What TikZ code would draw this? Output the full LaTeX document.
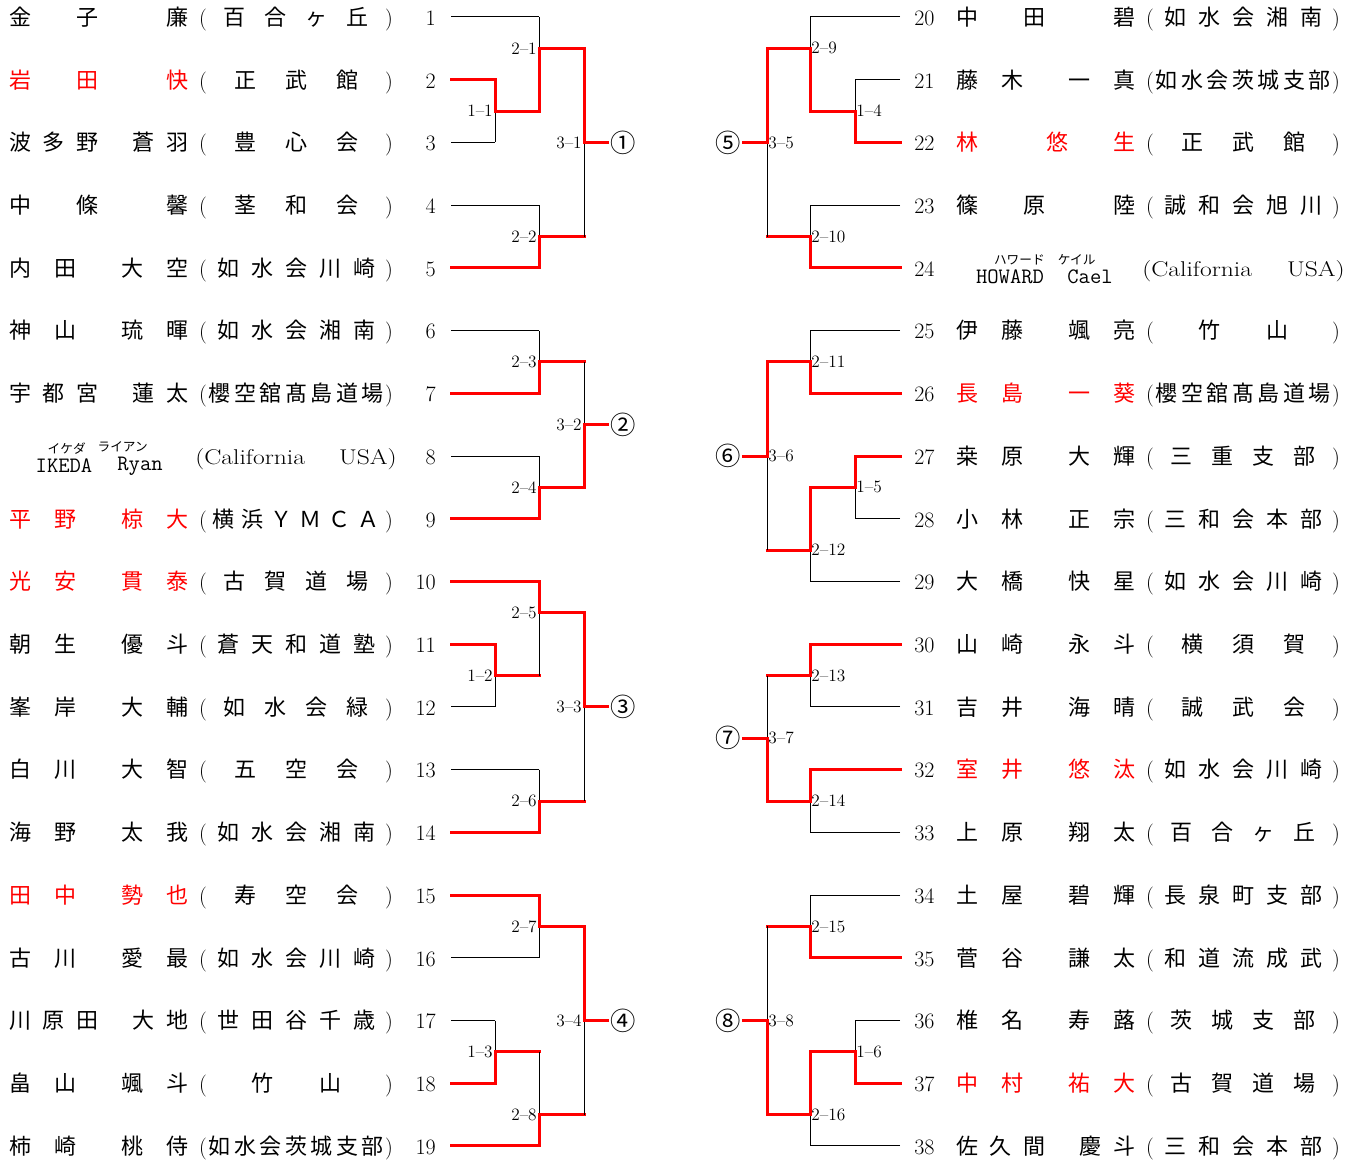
\documentclass[tikz,border=0pt]{standalone}
\usepackage{fontspec}
\newfontfamily\jp{Noto Sans CJK JP}
\usetikzlibrary{positioning}

% name layouts: 2+2, 2+1, 3+2, 1+2 characters
\newcommand{\nmA}[7]{\foreach \cx/\ch [count=\i] in {20/#4,65/#5,132/#6,177/#7}
  \node[nm,#3] (n#1-\i) at (\xoff+\cx,#2) {\ch};}
\newcommand{\nmB}[6]{\foreach \cx/\ch [count=\i] in {20/#4,87/#5,177/#6}
  \node[nm,#3] (n#1-\i) at (\xoff+\cx,#2) {\ch};}
\newcommand{\nmC}[8]{\foreach \cx/\ch [count=\i] in {20/#4,53/#5,87/#6,143/#7,177/#8}
  \node[nm,#3] (n#1-\i) at (\xoff+\cx,#2) {\ch};}
\newcommand{\nmD}[6]{\foreach \cx/\ch [count=\i] in {20/#4,110/#5,177/#6}
  \node[nm,#3] (n#1-\i) at (\xoff+\cx,#2) {\ch};}
% club in brackets, n characters spread
\newcommand{\club}[4]{%
  \pgfmathsetmacro{\clsp}{(180-24*#3)/(#3+1)+24}
  \node[par] (cl#1) at (\xoff+203,#2) {(};
  \node[par] (cr#1) at (\xoff+389,#2) {)};
  \foreach \ch [count=\i] in {#4}
    \node[nm] (c#1-\i) at ({\xoff+296+(\i-(#3+1)/2)*\clsp},#2) {\ch};}
% bout: round, no, x vertical, x out, top, bottom, out row, winner row, label style
\newcommand{\bout}[9]{%
  \draw[ln] (#3,#5) -- (#3,#6);
  \draw[wl] (#3,#8) -- (#3,#7) -- (#4,#7);
  \node[#9] (m#1-#2) at (#3,#7) {#1--#2};}

\begin{document}
\begin{tikzpicture}[x=0.75pt,y=-47.04pt,
    nm/.style={font=\jp\fontsize{16.5}{16.5}\selectfont,inner sep=0,text height=13.2pt,text depth=0.7pt},
    par/.style={font=\fontsize{16.5}{16.5}\selectfont,inner sep=0,text height=13.2pt,text depth=0.7pt},
    num/.style={par},
    usa/.style={font=\fontsize{16}{16}\selectfont,inner sep=0,text height=13.2pt,text depth=0.7pt},
    lt/.style={font=\ttfamily\fontsize{16.5}{16.5}\selectfont,inner sep=0},
    rb/.style={font=\jp\fontsize{9.5}{9.5}\selectfont,inner sep=0},
    lbl/.style={font=\fontsize{13}{13}\selectfont,inner sep=0},
    lblL/.style={lbl,anchor=east,xshift=-1.5pt},
    lblR/.style={lbl,anchor=west,xshift=0.75pt},
    circ/.style={font=\jp\fontsize{19}{19}\selectfont,inner sep=0},
    ln/.style={line width=0.75pt},
    wl/.style={line width=2.25pt,red,line cap=rect}
  ]
  \useasboundingbox (0,0.729) rectangle (1359,19.224);

  % left half
  \def\xoff{0}
  \nmB{1}{1}{}{金}{子}{廉}        \club{1}{1}{4}{百,合,ヶ,丘}
  \nmB{2}{2}{red}{岩}{田}{快}     \club{2}{2}{3}{正,武,館}
  \nmC{3}{3}{}{波}{多}{野}{蒼}{羽} \club{3}{3}{3}{豊,心,会}
  \nmB{4}{4}{}{中}{條}{馨}        \club{4}{4}{3}{茎,和,会}
  \nmA{5}{5}{}{内}{田}{大}{空}    \club{5}{5}{5}{如,水,会,川,崎}
  \nmA{6}{6}{}{神}{山}{琉}{暉}    \club{6}{6}{5}{如,水,会,湘,南}
  \nmC{7}{7}{}{宇}{都}{宮}{蓮}{太} \club{7}{7}{7}{櫻,空,舘,髙,島,道,場}
  \node[lt] (ik) at (64,8.16) {IKEDA};
  \node[lt] (ry) at (140,8.16) {Ryan};
  \node[rb,above=3pt of ik,xshift=2pt] (ikr) {イケダ};
  \node[rb,above=3pt of ry,xshift=-13pt] (ryr) {ライアン};
  \node[usa,anchor=west] (ca8) at (195,8) {\scalebox{1.2}[1]{(California}};
  \node[usa,anchor=east] (us8) at (397,8) {\scalebox{1.2}[1]{USA)}};
  \nmA{9}{9}{red}{平}{野}{椋}{大}    \club{9}{9}{6}{横,浜,Ｙ,Ｍ,Ｃ,Ａ}
  \nmA{10}{10}{red}{光}{安}{貫}{泰}  \club{10}{10}{4}{古,賀,道,場}
  \nmA{11}{11}{}{朝}{生}{優}{斗}     \club{11}{11}{5}{蒼,天,和,道,塾}
  \nmA{12}{12}{}{峯}{岸}{大}{輔}     \club{12}{12}{4}{如,水,会,緑}
  \nmA{13}{13}{}{白}{川}{大}{智}     \club{13}{13}{3}{五,空,会}
  \nmA{14}{14}{}{海}{野}{太}{我}     \club{14}{14}{5}{如,水,会,湘,南}
  \nmA{15}{15}{red}{田}{中}{勢}{也}  \club{15}{15}{3}{寿,空,会}
  \nmA{16}{16}{}{古}{川}{愛}{最}     \club{16}{16}{5}{如,水,会,川,崎}
  \nmC{17}{17}{}{川}{原}{田}{大}{地} \club{17}{17}{5}{世,田,谷,千,歳}
  \nmA{18}{18}{}{畠}{山}{颯}{斗}     \club{18}{18}{2}{竹,山}
  \nmA{19}{19}{}{柿}{崎}{桃}{侍}     \club{19}{19}{7}{如,水,会,茨,城,支,部}
  \foreach \k in {1,...,19}
    \node[num,anchor=east] (p\k) at (436,\k) {\k};

  % right half
  \def\xoff{947}
  \nmB{20}{1}{}{中}{田}{碧}         \club{20}{1}{5}{如,水,会,湘,南}
  \nmA{21}{2}{}{藤}{木}{一}{真}     \club{21}{2}{7}{如,水,会,茨,城,支,部}
  \nmD{22}{3}{red}{林}{悠}{生}      \club{22}{3}{3}{正,武,館}
  \nmB{23}{4}{}{篠}{原}{陸}         \club{23}{4}{5}{誠,和,会,旭,川}
  \node[lt] (hw) at (1010,5.145) {HOWARD};
  \node[lt] (cl) at (1090,5.145) {Cael};
  \node[rb,above=3pt of hw,xshift=7pt] (hwr) {ハワード};
  \node[rb,above=3pt of cl,xshift=-10pt] (clr) {ケイル};
  \node[usa,anchor=west] (ca24) at (1142,5) {\scalebox{1.2}[1]{(California}};
  \node[usa,anchor=east] (us24) at (1345,5) {\scalebox{1.2}[1]{USA)}};
  \nmA{25}{6}{}{伊}{藤}{颯}{亮}     \club{25}{6}{2}{竹,山}
  \nmA{26}{7}{red}{長}{島}{一}{葵}  \club{26}{7}{7}{櫻,空,舘,髙,島,道,場}
  \nmA{27}{8}{}{桒}{原}{大}{輝}     \club{27}{8}{4}{三,重,支,部}
  \nmA{28}{9}{}{小}{林}{正}{宗}     \club{28}{9}{5}{三,和,会,本,部}
  \nmA{29}{10}{}{大}{橋}{快}{星}    \club{29}{10}{5}{如,水,会,川,崎}
  \nmA{30}{11}{}{山}{崎}{永}{斗}    \club{30}{11}{3}{横,須,賀}
  \nmA{31}{12}{}{吉}{井}{海}{晴}    \club{31}{12}{3}{誠,武,会}
  \nmA{32}{13}{red}{室}{井}{悠}{汰} \club{32}{13}{5}{如,水,会,川,崎}
  \nmA{33}{14}{}{上}{原}{翔}{太}    \club{33}{14}{4}{百,合,ヶ,丘}
  \nmA{34}{15}{}{土}{屋}{碧}{輝}    \club{34}{15}{5}{長,泉,町,支,部}
  \nmA{35}{16}{}{菅}{谷}{謙}{太}    \club{35}{16}{5}{和,道,流,成,武}
  \nmA{36}{17}{}{椎}{名}{寿}{蕗}    \club{36}{17}{4}{茨,城,支,部}
  \nmA{37}{18}{red}{中}{村}{祐}{大} \club{37}{18}{4}{古,賀,道,場}
  \nmC{38}{19}{}{佐}{久}{間}{慶}{斗} \club{38}{19}{5}{三,和,会,本,部}
  \foreach \k in {20,...,38}
    \node[num,anchor=west] (p\k) at (914,\k-19) {\k};

  % entry lines
  \foreach \k/\xe/\st in {1/539/ln,2/495/wl,3/495/ln,4/539/ln,5/539/wl,6/539/ln,7/539/wl,
      8/539/ln,9/539/wl,10/539/wl,11/495/wl,12/495/ln,13/539/ln,14/539/wl,15/539/wl,
      16/539/ln,17/495/ln,18/495/wl,19/539/wl}
    \draw[\st] (451,\k) -- (\xe,\k);
  \foreach \k/\xe/\st in {1/810/ln,2/855/ln,3/855/wl,4/810/ln,5/810/wl,6/810/ln,7/810/wl,
      8/855/wl,9/855/ln,10/810/ln,11/810/wl,12/810/ln,13/810/wl,14/810/ln,15/810/ln,
      16/810/wl,17/855/ln,18/855/wl,19/810/ln}
    \draw[\st] (900,\k) -- (\xe,\k);

  % left bouts
  \bout{1}{1}{495}{539}{2}{3}{2.5}{2}{lblL}
  \bout{2}{1}{539}{584}{1}{2.5}{1.5}{2.5}{lblL}
  \bout{2}{2}{539}{584}{4}{5}{4.5}{5}{lblL}
  \bout{3}{1}{584}{607}{1.5}{4.5}{3}{1.5}{lblL}
  \bout{2}{3}{539}{584}{6}{7}{6.5}{7}{lblL}
  \bout{2}{4}{539}{584}{8}{9}{8.5}{9}{lblL}
  \bout{3}{2}{584}{607}{6.5}{8.5}{7.5}{8.5}{lblL}
  \bout{1}{2}{495}{539}{11}{12}{11.5}{11}{lblL}
  \bout{2}{5}{539}{584}{10}{11.5}{10.5}{10}{lblL}
  \bout{2}{6}{539}{584}{13}{14}{13.5}{14}{lblL}
  \bout{3}{3}{584}{607}{10.5}{13.5}{12}{10.5}{lblL}
  \bout{2}{7}{539}{584}{15}{16}{15.5}{15}{lblL}
  \bout{1}{3}{495}{539}{17}{18}{17.5}{18}{lblL}
  \bout{2}{8}{539}{584}{17.5}{19}{18.5}{19}{lblL}
  \bout{3}{4}{584}{607}{15.5}{18.5}{17}{15.5}{lblL}

  % right bouts
  \bout{1}{4}{855}{810}{2}{3}{2.5}{3}{lblR}
  \bout{2}{9}{810}{767}{1}{2.5}{1.5}{2.5}{lblR}
  \bout{2}{10}{810}{767}{4}{5}{4.5}{5}{lblR}
  \bout{3}{5}{767}{743}{1.5}{4.5}{3}{1.5}{lblR}
  \bout{2}{11}{810}{767}{6}{7}{6.5}{7}{lblR}
  \bout{1}{5}{855}{810}{8}{9}{8.5}{8}{lblR}
  \bout{2}{12}{810}{767}{8.5}{10}{9.5}{8.5}{lblR}
  \bout{3}{6}{767}{743}{6.5}{9.5}{8}{6.5}{lblR}
  \bout{2}{13}{810}{767}{11}{12}{11.5}{11}{lblR}
  \bout{2}{14}{810}{767}{13}{14}{13.5}{13}{lblR}
  \bout{3}{7}{767}{743}{11.5}{13.5}{12.5}{13.5}{lblR}
  \bout{2}{15}{810}{767}{15}{16}{15.5}{16}{lblR}
  \bout{1}{6}{855}{810}{17}{18}{17.5}{18}{lblR}
  \bout{2}{16}{810}{767}{17.5}{19}{18.5}{17.5}{lblR}
  \bout{3}{8}{767}{743}{15.5}{18.5}{17}{18.5}{lblR}

  % block winners
  \node[circ] (w1) at (623,3) {①};
  \node[circ] (w2) at (623,7.5) {②};
  \node[circ] (w3) at (623,12) {③};
  \node[circ] (w4) at (623,17) {④};
  \node[circ] (w5) at (728,3) {⑤};
  \node[circ] (w6) at (728,8) {⑥};
  \node[circ] (w7) at (728,12.5) {⑦};
  \node[circ] (w8) at (728,17) {⑧};
\end{tikzpicture}
\end{document}
